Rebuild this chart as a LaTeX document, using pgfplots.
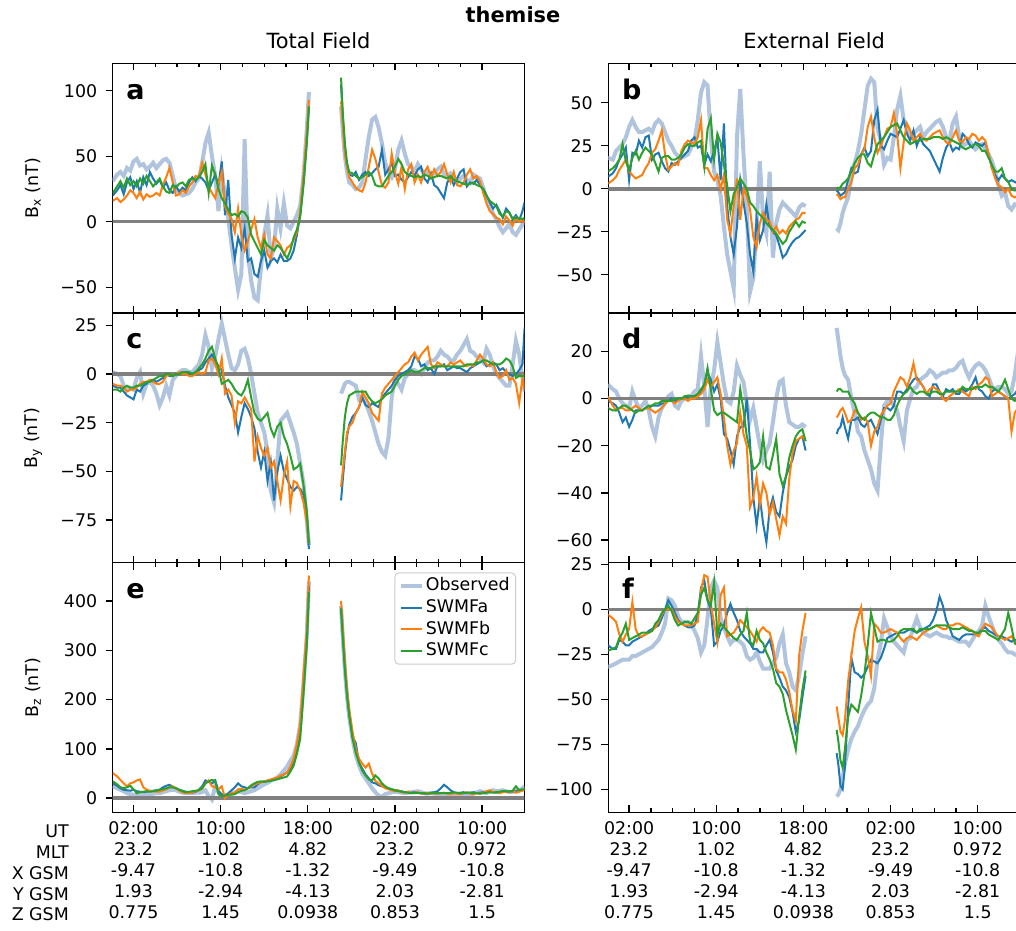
\documentclass[border=0pt]{standalone}
\usepackage{fontspec}
\setmainfont{DejaVu Sans}
\usepackage{pgfplots}
\usepackage{pgfplotstable}
\pgfplotsset{compat=1.18}
\definecolor{cobs}{RGB}{176,196,222}
\definecolor{ca}{RGB}{31,119,180}
\definecolor{cb}{RGB}{255,127,14}
\definecolor{cc}{RGB}{44,160,44}
\definecolor{czero}{RGB}{128,128,128}
\newcommand{\tickfont}{\fontsize{17.4}{20.8}\selectfont}

% Panel a: total Bx
\pgfplotstableread{
t o a b c
0.1 31 20 16 22
0.5 36 24 18 27
0.8 38 28 15 31
1.1 35 21 17 26
1.4 41 30 20 33
1.7 39 34 24 28
2.0 46 25 22 31
2.3 48 31 18 27
2.6 43 22 23 33
2.9 44 34 17 29
3.2 40 28 21 35
3.5 42 38 19 31
3.8 45 33 20 27
4.1 41 29 22 30
4.4 44 32 20 33
4.7 47 26 28 27
5.0 48 30 34 23
5.3 45 24 41 22
5.6 35 22 30 28
5.9 25 27 20 26
6.2 22 23 21 29
6.5 20 26 24 30
6.8 21 24 22 27
7.1 22 30 27 32
7.4 25 34 30 33
7.7 30 31 35 32
8.0 33 35 34 34
8.3 45 33 45 38
8.6 60 30 36 44
8.9 68 24 27 22
9.2 50 30 22 43
9.5 35 36 18 36
9.8 8 28 29 25
10.1 38 46 38 18
10.4 20 5 12 14
10.7 2 32 6 9
11.0 -18 -10 2 5
11.3 -35 -28 -8 6
11.6 -52 -12 10 4
11.9 -40 -20 -10 8
12.2 63 -5 -22 7
12.5 -25 -30 -15 3
12.8 -45 -28 -6 -10
13.1 -58 -40 2 -15
13.4 -60 -42 -12 -20
13.7 -35 -30 -20 -25
14.0 -10 -22 -10 -14
14.3 5 -35 -25 -18
14.6 -28 -30 -28 -20
14.9 -20 -28 -12 -22
15.2 10 -31 -15 -18
15.5 -5 -25 -18 -20
15.8 14 -30 -25 -24
16.1 -3 -30 -20 -28
16.4 -5 -28 -18 -22
16.7 0 -22 -14 -12
17.0 5 -10 -8 -6
17.3 12 5 8 4
17.6 35 30 35 28
17.9 70 62 68 60
18.1 99 88 93 88
19.5 nan nan nan nan
21.05 88 105 92 110
21.2 70 80 75 85
21.4 50 55 52 60
21.6 38 42 42 45
21.8 30 36 34 38
22.1 28 35 30 37
22.4 25 38 26 35
22.7 26 32 24 33
23.0 30 36 23 34
23.3 48 38 30 36
23.6 65 35 42 38
23.9 78 37 55 35
24.2 80 40 48 28
24.5 72 42 38 27
24.8 60 55 28 27
25.1 45 36 26 31
25.4 38 40 30 35
25.7 34 45 52 38
26.0 40 35 38 42
26.3 55 36 29 48
26.6 62 32 42 44
26.9 52 30 25 38
27.2 44 34 40 36
27.5 42 38 44 35
27.8 38 35 30 34
28.1 44 40 36 35
28.4 40 42 30 34
28.7 36 33 38 36
29.0 38 30 42 35
29.3 35 37 34 33
29.6 37 28 40 34
29.9 40 26 35 35
30.2 42 22 38 35
30.5 36 18 44 34
30.8 35 30 36 33
31.1 37 34 30 35
31.4 34 28 38 32
31.7 30 33 28 31
32.0 33 38 27 30
32.3 35 40 30 29
32.6 32 27 36 28
32.9 30 30 40 29
33.2 36 29 33 30
33.5 34 32 35 28
33.8 33 28 31 27
34.1 26 25 22 25
34.4 18 20 14 20
34.7 14 15 8 16
35.0 6 10 6 14
35.3 2 13 3 12
35.6 -4 8 2 6
35.9 -8 3 -2 4
36.2 -5 10 4 8
36.5 -2 7 1 7
36.8 -8 2 -3 2
37.1 -10 5 3 3
37.4 -6 1 0 3
37.7 -2 8 1 2
37.9 2 15 -1 3
}\tA

% Panel b: external Bx
\pgfplotstableread{
t o a b c
0.05 18 7 3 10
0.5 17 9 5 12
0.8 22 12 7 14
1.1 24 17 11 17
1.4 26 20 14 26
1.7 30 24 17 16
2.0 36 5 10 11
2.3 40 21 8 18
2.6 36 20 6 22
2.9 33 28 7 17
3.2 33 24 8 21
3.5 34 30 12 24
3.8 35 31 15 22
4.1 33 17 21 20
4.4 38 20 23 15
4.7 40 21 28 10
5.0 38 16 34 18
5.3 33 12 20 19
5.6 28 10 11 19
5.9 25 15 13 17
6.2 21 14 15 17
6.5 19 16 14 18
6.8 18 18 22 20
7.1 19 20 26 24
7.4 20 22 28 26
7.7 24 28 27 25
8.0 28 30 26 25
8.3 40 24 30 27
8.6 56 25 40 28
8.9 62 14 12 13
9.2 60 20 12 35
9.5 30 16 8 41
9.8 10 22 5 17
10.1 5 30 8 32
10.4 -4 5 0 27
10.7 -22 38 8 14
11.0 -38 -10 -18 2
11.3 -48 -28 -26 -13
11.6 -58 -38 -10 -3
11.9 30 -22 6 1
12.2 58 5 -18 6
12.5 20 -8 0 3
12.8 -12 -20 -4 0
13.1 -60 -38 -12 -8
13.4 -52 -48 -28 -10
13.7 -22 -17 -34 -13
14.0 16 -30 -20 -15
14.3 -18 -24 -14 -17
14.6 -26 -9 -18 -20
14.9 10 -22 -19 -22
15.2 -40 -25 -25 -24
15.5 -20 -27 -22 -26
15.8 -12 -33 -26 -29
16.1 -8 -40 -24 -32
16.4 -10 -38 -26 -30
16.7 -12 -34 -22 -25
17.0 -14 -31 -20 -22
17.3 -16 -29 -18 -19
17.6 -11 -28 -17 -22
17.9 -9 -26 -14 -19
18.2 -10 -24 -14 -20
19.5 nan nan nan nan
21.05 -23 -1 -3 1
21.2 -24 -2 -4 0
21.4 -20 -4 -6 1
21.6 -14 -3 -5 3
21.8 -10 -2 -5 4
22.1 -5 5 0 6
22.4 6 12 4 10
22.7 15 9 12 15
23.0 22 10 14 18
23.3 32 20 20 20
23.6 46 24 23 20
23.9 60 19 36 15
24.2 64 22 42 13
24.5 62 40 30 20
24.8 35 46 21 26
25.1 28 25 25 28
25.4 14 23 30 30
25.7 18 28 35 33
26.0 17 32 36 36
26.3 30 31 44 37
26.6 46 30 32 38
26.9 54 35 12 34
27.2 40 40 27 30
27.5 36 32 38 28
27.8 30 28 34 26
28.1 32 34 28 27
28.4 34 25 30 28
28.7 36 30 32 28
29.0 30 26 29 29
29.3 33 24 28 29
29.6 35 22 30 29
29.9 37 18 32 30
30.2 39 14 33 30
30.5 40 10 34 30
30.8 36 18 30 29
31.1 30 24 27 30
31.4 28 27 26 29
31.7 38 22 30 28
32.0 42 24 34 27
32.3 30 23 28 26
32.6 25 32 27 24
32.9 26 30 30 23
33.2 28 26 29 24
33.5 25 24 32 25
33.8 23 27 31 26
34.1 25 26 28 25
34.4 26 25 30 22
34.7 23 27 28 22
35.0 20 20 20 18
35.3 16 12 12 14
35.6 10 8 6 10
35.9 2 5 2 10
36.2 -4 8 1 12
36.5 -2 6 -2 6
36.8 -10 4 0 4
37.1 -12 5 -4 0
37.4 -9 4 -5 -1
37.7 -10 3 -4 0
37.9 -12 2 -5 -1
}\tB

% Panel c: total By
\pgfplotstableread{
t o a b c
0.1 1 -6 -5 -8
0.5 0 -7 -6 -8
0.8 -1 -7 -6 -9
1.1 -6 -9 -7 -7
1.4 -8 -11 -9 -6
1.7 -7 -12 -8 -7
2.0 -8 -13 -8 -7
2.3 -2 -8 -7 -6
2.6 1 -9 -5 -6
2.9 -10 -6 -4 -5
3.2 -5 -5 -4 -4
3.5 -4 -3 -3 -4
3.8 -6 -3 -4 -3
4.1 -10 -4 -5 -2
4.4 -16 -3 -5 -1
4.7 -12 -2 -4 -1
5.0 -6 0 -1 0
5.3 -11 -1 0 0
5.6 -3 -1 -1 -1
5.9 -1 0 0 0
6.2 1 0 1 0
6.5 2 1 0 1
6.8 2 1 0 1
7.1 1 0 -1 1
7.4 1 0 -1 0
7.7 3 1 0 1
8.0 5 2 1 3
8.3 10 3 0 5
8.6 20 6 1 8
8.9 14 8 7 12
9.2 3 10 8 14
9.5 9 7 5 8
9.8 18 4 0 3
10.1 26 2 8 -5
10.4 18 -6 -10 -4
10.7 10 -12 -8 -3
11.0 3 -16 -11 -5
11.3 2 -20 -25 -8
11.6 5 -30 -14 -10
11.9 12 -22 -15 -11
12.2 13 -15 -12 -8
12.5 8 -18 -15 -3
12.8 0 -22 -18 -12
13.1 -10 -28 -45 -20
13.4 -20 -40 -32 -23
13.7 -25 -48 -38 -24
14.0 -30 -40 -42 -22
14.3 -40 -55 -38 -20
14.6 -60 -45 -48 -28
14.9 -66 -65 -45 -32
15.2 -45 -50 -55 -27
15.5 -24 -42 -65 -25
15.8 -22 -50 -52 -32
16.1 -20 -54 -45 -36
16.4 -25 -58 -68 -42
16.7 -30 -60 -55 -49
17.0 -36 -58 -56 -48
17.3 -46 -59 -60 -46
17.6 -56 -62 -66 -57
17.9 -75 -72 -76 -70
18.1 -88 -90 -87 -87
19.5 nan nan nan nan
21.05 -10 -65 -58 -47
21.2 -8 -55 -50 -35
21.4 -5 -42 -40 -22
21.6 -4 -32 -30 -15
21.8 -4 -26 -27 -11
22.1 -5 -22 -25 -10
22.4 -6 -20 -20 -9
22.7 -13 -17 -17 -9
23.0 -12 -12 -9 -9
23.3 -15 -16 -12 -9
23.6 -19 -17 -15 -12
23.9 -24 -15 -20 -14
24.2 -30 -16 -22 -15
24.5 -36 -17 -24 -14
24.8 -40 -12 -10 -13
25.1 -42 -10 -7 -11
25.4 -33 -8 -5 -10
25.7 -12 -6 -3 -9
26.0 -2 -3 -1 -6
26.3 -5 -1 1 -3
26.6 -8 0 3 -1
26.9 -2 1 5 0
27.2 0 2 6 1
27.5 2 4 9 2
27.8 2 9 11 1
28.1 1 8 7 1
28.4 0 4 10 2
28.7 3 5 12 3
29.0 6 2 14 3
29.3 7 3 5 3
29.6 7 0 3 4
29.9 9 4 6 4
30.2 12 4 5 4
30.5 10 5 4 4
30.8 9 2 4 4
31.1 7 3 6 4
31.4 7 4 5 4
31.7 10 3 6 4
32.0 12 3 7 4
32.3 15 2 5 4
32.6 18 1 4 5
32.9 12 3 5 5
33.2 11 4 4 5
33.5 9 5 7 6
33.8 8 6 10 6
34.1 6 7 8 7
34.4 13 4 5 7
34.7 10 5 4 6
35.0 4 6 6 5
35.3 0 5 1 5
35.6 -2 2 -2 5
35.9 -4 3 -1 6
36.2 -6 1 2 8
36.5 -6 0 -3 7
36.8 5 -1 -2 4
37.1 17 0 -5 -2
37.4 10 2 -15 -1
37.7 -2 5 -2 -1
37.9 -9 24 -8 -1
}\tC

% Panel d: external By
\pgfplotstableread{
t o a b c
0.05 6 -1 1 -4
0.5 4 -2 -3 -5
0.8 3 -3 -5 -5
1.1 0 -6 -4 -4
1.4 -2 -10 -4 -3
1.7 -3 -8 -5 -3
2.0 -4 -12 -5 -4
2.3 3 -9 -4 -5
2.6 -1 -5 -3 -6
2.9 -4 -5 -4 -5
3.2 -3 -5 -5 -5
3.5 -1 -4 -4 -4
3.8 -5 -4 -4 -3
4.1 -12 -3 -5 -3
4.4 -16 -3 -6 -2
4.7 -8 -3 -5 -2
5.0 -4 -2 -4 -1
5.3 -2 -2 -2 -1
5.6 1 -1 -1 -1
5.9 2 0 -1 -1
6.2 -3 -1 -2 0
6.5 -4 0 -1 0
6.8 -1 0 0 0
7.1 0 0 0 1
7.4 1 1 -1 1
7.7 1 1 0 1
8.0 3 1 0 1
8.3 4 2 1 2
8.6 18 3 2 4
8.9 5 6 4 6
9.2 -12 11 8 13
9.5 5 8 5 4
9.8 12 3 7 -5
10.1 24 6 9 -7
10.4 15 0 2 -6
10.7 6 -15 -8 -6
11.0 -1 -17 -20 -7
11.3 -2 -22 -28 -8
11.6 3 -28 -22 -9
11.9 14 -16 -19 -10
12.2 10 -12 -6 4
12.5 7 -12 -15 -5
12.8 -2 0 -20 -16
13.1 -9 -19 -46 -22
13.4 -4 -42 -42 -30
13.7 -12 -54 -33 -29
14.0 -20 -42 -45 -27
14.3 -26 -53 -36 -16
14.6 -22 -61 -40 -29
14.9 -19 -47 -49 -30
15.2 -10 -42 -44 -24
15.5 0 -48 -51 -17
15.8 7 -50 -58 -32
16.1 8 -40 -50 -37
16.4 -3 -33 -53 -33
16.7 -10 -29 -34 -25
17.0 -11 -26 -23 -20
17.3 -12 -20 -18 -16
17.6 -12 -17 -17 -14
17.9 -11 -16 -16 -13
18.2 -12 -22 -18 -18
19.5 nan nan nan nan
21.05 30 -15 -8 3
21.2 25 -13 -7 4
21.4 18 -12 -5 4
21.6 13 -8 -4 3
21.8 10 -12 -6 3
22.1 8 -17 -10 3
22.4 0 -9 -9 0
22.7 -6 -9 -5 -2
23.0 -14 -8 -6 -6
23.3 -16 -11 -9 -8
23.6 -22 -12 -8 -9
23.9 -26 -10 -10 -7
24.2 -30 -9 -20 -6
24.5 -36 -12 -14 -6
24.8 -39 -15 -12 -7
25.1 -20 -9 -7 -8
25.4 -3 -4 -5 -8
25.7 -1 -4 -3 -9
26.0 -1 -5 -2 -9
26.3 -3 -3 3 -7
26.6 -5 3 6 -3
26.9 -12 3 9 0
27.2 -18 2 8 2
27.5 -5 4 5 3
27.8 0 6 9 5
28.1 4 8 15 3
28.4 5 9 8 2
28.7 8 7 7 3
29.0 9 5 5 3
29.3 10 2 2 2
29.6 12 1 4 2
29.9 11 6 5 3
30.2 9 6 4 3
30.5 10 3 3 2
30.8 11 1 0 2
31.1 11 4 -1 3
31.4 12 3 1 3
31.7 12 4 2 3
32.0 13 2 3 3
32.3 15 2 4 3
32.6 16 4 3 5
32.9 12 3 2 4
33.2 9 4 1 4
33.5 12 6 5 4
33.8 14 9 4 5
34.1 15 4 6 5
34.4 14 3 7 5
34.7 12 1 9 6
35.0 9 0 8 5
35.3 5 3 1 5
35.6 4 4 2 4
35.9 5 3 3 3
36.2 5 2 2 5
36.5 4 1 1 8
36.8 2 0 0 4
37.1 3 1 -14 0
37.4 10 2 -6 -1
37.7 20 4 -4 0
37.9 18 3 -2 0
}\tD

% Panel e: total Bz
\pgfplotstableread{
t o a b c
0.1 24 30 51 34
0.5 20 25 44 28
0.8 17 20 37 22
1.1 14 17 30 20
1.4 10 16 24 22
1.7 8 15 30 25
2.0 7 17 32 18
2.3 6 14 36 10
2.6 6 13 38 12
2.9 7 12 22 13
3.2 7 13 17 14
3.5 8 14 15 13
3.8 9 15 14 14
4.1 10 16 13 15
4.4 10 17 13 17
4.7 12 22 16 18
5.0 14 25 18 20
5.3 16 27 22 22
5.6 17 23 24 22
5.9 16 20 20 20
6.2 13 17 15 17
6.5 11 15 12 14
6.8 10 13 10 12
7.1 10 12 10 13
7.4 10 11 12 14
7.7 11 13 14 15
8.0 11 17 16 16
8.3 12 24 19 20
8.6 16 36 30 30
8.9 4 33 36 34
9.2 -3 30 24 37
9.5 25 36 22 35
9.8 12 14 18 8
10.1 2 8 24 4
10.4 0 6 0 5
10.7 5 10 7 7
11.0 10 16 10 7
11.3 12 22 11 8
11.6 14 30 18 12
11.9 12 24 19 15
12.2 10 22 17 16
12.5 12 20 20 20
12.8 14 22 24 26
13.1 16 22 28 30
13.4 20 28 30 33
13.7 24 32 32 34
14.0 28 34 34 33
14.3 31 35 36 34
14.6 35 37 38 35
14.9 38 39 40 37
15.2 42 41 42 38
15.5 48 44 46 40
15.8 56 48 48 42
16.1 64 52 52 44
16.4 76 60 64 54
16.7 86 72 80 66
17.0 110 100 110 90
17.3 150 140 150 120
17.6 230 230 250 210
17.9 330 320 340 310
18.1 440 430 452 418
19.5 nan nan nan nan
21.05 390 385 400 385
21.2 330 335 350 330
21.4 260 265 280 262
21.6 205 210 222 208
21.8 165 170 180 168
22.1 120 125 135 122
22.4 88 112 100 92
22.7 66 72 80 72
23.0 50 60 70 56
23.3 40 48 62 46
23.6 30 40 70 38
23.9 20 32 50 36
24.2 12 30 35 46
24.5 5 26 30 40
24.8 3 24 25 30
25.1 8 22 20 24
25.4 10 20 18 20
25.7 12 18 16 18
26.0 13 16 14 16
26.3 12 15 16 14
26.6 11 14 12 13
26.9 10 12 11 12
27.2 11 12 13 11
27.5 12 11 10 10
27.8 13 12 11 10
28.1 14 11 12 10
28.4 12 10 9 10
28.7 10 9 10 10
29.0 9 10 11 9
29.3 10 11 9 10
29.6 9 12 10 10
29.9 8 14 9 10
30.2 7 20 10 10
30.5 8 27 11 10
30.8 7 22 9 10
31.1 6 16 8 11
31.4 6 12 10 11
31.7 7 10 9 11
32.0 6 11 8 10
32.3 7 12 10 10
32.6 8 10 12 11
32.9 8 11 9 11
33.2 9 12 8 10
33.5 12 10 10 10
33.8 14 11 9 9
34.1 12 12 11 10
34.4 10 13 14 11
34.7 13 14 16 12
35.0 16 12 12 11
35.3 14 11 13 12
35.6 15 12 10 13
35.9 16 14 12 14
36.2 14 13 13 14
36.5 12 14 12 13
36.8 13 13 15 15
37.1 14 14 11 24
37.4 16 15 13 16
37.7 20 16 15 18
37.9 24 18 17 18
}\tE

% Panel f: external Bz
\pgfplotstableread{
t o a b c
0.05 -32 -20 -3 -23
0.5 -31 -22 -5 -22
0.8 -30 -22 -7 -21
1.1 -29 -17 -14 -16
1.4 -28 -18 -18 -13
1.7 -28 -20 -14 -8
2.0 -28 -20 -11 -17
2.3 -26 -18 4 -16
2.6 -26 -17 -11 -15
2.9 -25 -16 -15 -14
3.2 -24 -15 -15 -13
3.5 -23 -14 -14 -13
3.8 -22 -12 -13 -13
4.1 -21 -11 -12 -12
4.4 -19 -10 -10 -8
4.7 -17 -9 -7 -6
5.0 -13 -5 -3 -2
5.3 -8 0 0 0
5.6 6 5 0 2
5.9 5 2 0 -1
6.2 2 -2 -4 -6
6.5 -4 -6 -7 -9
6.8 -7 -8 -8 -8
7.1 -7 -9 -9 -7
7.4 -7 -10 -9 -7
7.7 -8 -10 -9 -8
8.0 -12 -9 -8 -5
8.3 -16 -3 -7 -2
8.6 -24 12 10 8
8.9 -20 16 19 12
9.2 -5 5 18 5
9.5 12 0 3 2
9.8 16 -20 -8 15
10.1 12 -18 -18 -14
10.4 -5 -12 8 -8
10.7 -10 -9 12 -10
11.0 -15 -2 -15 -12
11.3 -19 3 -14 -14
11.6 -17 -2 -13 -16
11.9 -17 -6 -10 -17
12.2 -18 -12 -6 -14
12.5 -20 -15 -8 -12
12.8 -26 -17 -10 -2
13.1 -28 -19 -12 -18
13.4 -27 -22 -15 -20
13.7 -24 -22 -18 -12
14.0 -29 -24 -12 -17
14.3 -33 -24 -10 -19
14.6 -33 -20 -12 -24
14.9 -33 -17 -13 -28
15.2 -30 -24 -20 -33
15.5 -27 -34 -33 -41
15.8 -19 -38 -35 -43
16.1 -14 -43 -35 -47
16.4 -30 -45 -39 -56
16.7 -35 -49 -46 -63
17.0 -43 -57 -56 -70
17.3 -45 -68 -62 -78
17.6 -37 -62 -26 -60
17.9 -25 -49 -12 -45
18.2 -15 -37 -2 -34
19.5 nan nan nan nan
21.05 -104 -80 -54 -67
21.2 -103 -86 -60 -73
21.4 -100 -98 -68 -84
21.6 -93 -100 -70 -88
21.8 -86 -88 -62 -78
22.1 -78 -55 -40 -60
22.4 -72 -27 -26 -53
22.7 -68 -35 -12 -55
23.0 -65 -36 -5 -57
23.3 -60 -38 1 -48
23.6 -56 -36 -18 -36
23.9 -53 -32 -26 -20
24.2 -51 -28 -37 -2
24.5 -44 -29 -8 -10
24.8 -28 -30 -10 -18
25.1 -19 -27 -13 -17
25.4 -5 -22 -13 -17
25.7 -10 -16 -12 -18
26.0 -15 -15 -11 -18
26.3 -18 -14 -12 -17
26.6 -20 -13 -13 -15
26.9 -22 -13 -16 -12
27.2 -24 -13 -18 -11
27.5 -17 -12 -16 -11
27.8 -16 -11 -15 -11
28.1 -10 -12 -16 -11
28.4 -5 -13 -17 -13
28.7 -10 -12 -15 -11
29.0 -13 -11 -13 -11
29.3 -14 -10 -12 -11
29.6 -15 -9 -11 -11
29.9 -14 -6 -10 -10
30.2 -13 -1 -9 -9
30.5 -14 7 -10 -9
30.8 -15 2 -11 -9
31.1 -15 -6 -11 -9
31.4 -16 -10 -9 -10
31.7 -16 -15 -9 -11
32.0 -17 -16 -8 -11
32.3 -18 -17 -8 -11
32.6 -18 -15 -9 -10
32.9 -18 -14 -10 -11
33.2 -20 -14 -11 -12
33.5 -17 -14 -12 -12
33.8 -14 -14 -14 -13
34.1 -12 -13 -15 -13
34.4 -9 -11 -11 -12
34.7 2 -10 -8 -12
35.0 -4 -12 -9 -14
35.3 -9 -13 -10 -15
35.6 -14 -14 -13 -16
35.9 -17 -15 -15 -17
36.2 -19 -15 -16 -14
36.5 -22 -16 -17 -11
36.8 -24 -17 -16 -2
37.1 -24 -18 -15 -10
37.4 -25 -17 -18 -19
37.7 -26 -17 -19 -20
37.9 -26 -17 -19 -20
}\tF

\pgfplotsset{
  panel/.style={
    scale only axis, width=411.6pt, height=249.7pt,
    xmin=0.09, xmax=37.87,
    xtick={2,10,18,26,34}, minor x tick num=3,
    xtick pos=both, ytick pos=left,
    tick align=inside,
    major tick length=7pt, minor tick length=4pt,
    tick style={black, line width=1.3pt},
    every major y tick/.append style={xshift=-7pt},
    ticklabel style={font=\tickfont},
    yticklabel style={xshift=-12pt},
    xticklabels={},
    axis line style={line width=1.5pt},
    unbounded coords=jump,
    every axis y label/.style={at={(axis description cs:-0.1936,0.5)}, rotate=90, anchor=center, font=\tickfont},
    legend image code/.code={\draw[##1] (0pt,0pt) -- (21pt,0pt);},
  },
  bottomlabels/.style={
    xticklabels={{02:00\\23.2\\-9.47\\1.93\\0.775},{10:00\\1.02\\-10.8\\-2.94\\1.45},{18:00\\4.82\\-1.32\\-4.13\\0.0938},{02:00\\23.2\\-9.49\\2.03\\0.853},{10:00\\0.972\\-10.8\\-2.81\\1.5}},
    xticklabel style={align=center, yshift=-6pt},
  },
  sobs/.style={cobs, line width=4pt},
  sa/.style={ca, line width=2pt},
  sb/.style={cb, line width=2pt},
  sc/.style={cc, line width=2pt},
  szero/.style={czero, line width=3.5pt, forget plot},
}

\newcommand{\panellabel}[1]{\node[anchor=base west, inner sep=0pt, font=\bfseries\fontsize{27}{30}\selectfont] at (rel axis cs:0.033,0.856) {#1};}

\begin{document}
\begin{tikzpicture}[x=1pt,y=1pt]
% ---- a
\begin{axis}[panel, at={(112.7pt,866.7pt)}, anchor=north west,
  ymin=-69.7, ymax=121, ytick={-50,0,50,100}, yticklabels={−50,0,50,100},
  ylabel={B\textsubscript{x} (nT)}]
\addplot[sobs] table[x=t,y=o] {\tA};
\addplot[szero] coordinates {(0,0) (38,0)};
\addplot[sa] table[x=t,y=a] {\tA};
\addplot[sb] table[x=t,y=b] {\tA};
\addplot[sc] table[x=t,y=c] {\tA};
\panellabel{a}
\end{axis}
% ---- b
\begin{axis}[panel, at={(608.3pt,866.7pt)}, anchor=north west,
  ymin=-72.2, ymax=73, ytick={-50,-25,0,25,50}, yticklabels={−50,−25,0,25,50}]
\addplot[sobs] table[x=t,y=o] {\tB};
\addplot[szero] coordinates {(0,0) (38,0)};
\addplot[sa] table[x=t,y=a] {\tB};
\addplot[sb] table[x=t,y=b] {\tB};
\addplot[sc] table[x=t,y=c] {\tB};
\panellabel{b}
\end{axis}
% ---- c
\begin{axis}[panel, at={(112.7pt,617pt)}, anchor=north west,
  ymin=-97, ymax=31.4, ytick={-75,-50,-25,0,25}, yticklabels={−75,−50,−25,0,25},
  ylabel={B\textsubscript{y} (nT)}]
\addplot[sobs] table[x=t,y=o] {\tC};
\addplot[szero] coordinates {(0,0) (38,0)};
\addplot[sa] table[x=t,y=a] {\tC};
\addplot[sb] table[x=t,y=b] {\tC};
\addplot[sc] table[x=t,y=c] {\tC};
\panellabel{c}
\end{axis}
% ---- d
\begin{axis}[panel, at={(608.3pt,617pt)}, anchor=north west,
  ymin=-69.6, ymax=36.3, ytick={-60,-40,-20,0,20}, yticklabels={−60,−40,−20,0,20}]
\addplot[sobs] table[x=t,y=o] {\tD};
\addplot[szero] coordinates {(0,0) (38,0)};
\addplot[sa] table[x=t,y=a] {\tD};
\addplot[sb] table[x=t,y=b] {\tD};
\addplot[sc] table[x=t,y=c] {\tD};
\panellabel{d}
\end{axis}
% ---- e
\begin{axis}[panel, bottomlabels, at={(112.7pt,367.3pt)}, anchor=north west,
  ymin=-29, ymax=478, ytick={0,100,200,300,400}, yticklabels={0,100,200,300,400},
  ylabel={B\textsubscript{z} (nT)},
  legend style={at={(rel axis cs:0.98,0.961)}, anchor=north east, font=\tickfont,
    draw=black!20, line width=1pt, rounded corners=4pt, fill=white, fill opacity=0.8, text opacity=1,
    inner xsep=4pt, inner ysep=3pt, row sep=1.5pt,
    nodes={inner sep=2pt, text height=12.7pt, text depth=3.5pt}},
  legend cell align=left]
\addplot[sobs] table[x=t,y=o] {\tE};
\addlegendentry{Observed}
\addplot[szero] coordinates {(0,0) (38,0)};
\addplot[sa] table[x=t,y=a] {\tE};
\addlegendentry{SWMFa}
\addplot[sb] table[x=t,y=b] {\tE};
\addlegendentry{SWMFb}
\addplot[sc] table[x=t,y=c] {\tE};
\addlegendentry{SWMFc}
\panellabel{e}
\end{axis}
% ---- f
\begin{axis}[panel, bottomlabels, at={(608.3pt,367.3pt)}, anchor=north west,
  ymin=-112.9, ymax=25.9, ytick={-100,-75,-50,-25,0,25}, yticklabels={−100,−75,−50,−25,0,25}]
\addplot[sobs] table[x=t,y=o] {\tF};
\addplot[szero] coordinates {(0,0) (38,0)};
\addplot[sa] table[x=t,y=a] {\tF};
\addplot[sb] table[x=t,y=b] {\tF};
\addplot[sc] table[x=t,y=c] {\tF};
\panellabel{f}
\end{axis}
% titles and row names
\node[font=\bfseries\fontsize{20.9}{25}\selectfont] at (513pt,915pt) {themise};
\node[font=\fontsize{20.9}{25}\selectfont] at (318.5pt,888.8pt) {Total Field};
\node[font=\fontsize{20.9}{25}\selectfont] at (814.1pt,889.3pt) {External Field};
\node[anchor=north east, align=right, inner sep=0pt, font=\tickfont] at (69pt,105.2pt) {UT\\MLT\\X GSM\\Y GSM\\Z GSM};
\pgfresetboundingbox
\path[use as bounding box] (0pt,0pt) rectangle (1016pt,930pt);
\end{tikzpicture}
\end{document}
